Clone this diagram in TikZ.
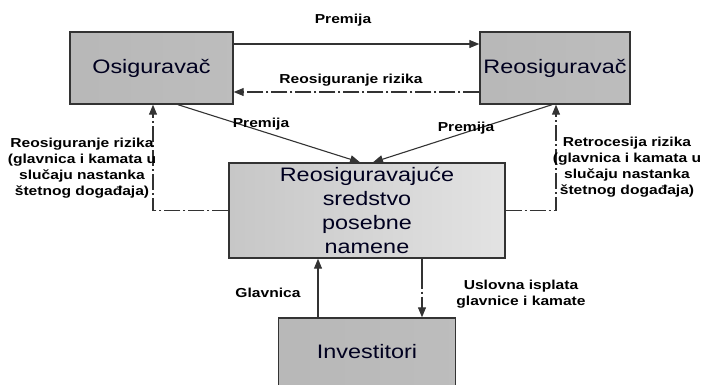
\documentclass[tikz,border=0pt]{standalone}
\usepackage{fontspec}
\setmainfont{Liberation Sans}[FakeStretch=1.2]
\usetikzlibrary{arrows.meta}
\begin{document}
\begin{tikzpicture}[x=1pt,y=-1pt,
  box/.style={draw=black!80, line width=1.4pt, inner sep=0pt, align=center,
    text=black!85!blue!80!black, font=\fontsize{19.5}{24}\selectfont,
    left color=black!28, middle color=black!7, right color=black!26},
  lab/.style={font=\fontsize{13}{16}\selectfont\bfseries, align=center, inner sep=0pt},
  cn/.style={line width=1.1pt, draw=black!80},
  arr/.style={-{Triangle[length=10pt,width=8pt]}},
  dd/.style={dash pattern=on 16pt off 3pt on 2pt off 3pt}]
\useasboundingbox (0,0) rectangle (701,384);
\clip (0,0) rectangle (701,384);

% parties
\node[box, minimum width=163pt, minimum height=72pt] (osig) at (151.5,68) {Osiguravač};
\node[box, minimum width=150pt, minimum height=72pt] (reos) at (555,68) {Reosiguravač};
\node[box, minimum width=276pt, minimum height=95pt,
  left color=black!22, middle color=black!15, right color=black!11] (mid) at (367,210.5)
  {Reosiguravajuće\\sredstvo\\posebne\\namene};
\node[box, minimum width=177pt, minimum height=68pt] (inv) at (367,352) {Investitori};

% premium and risk flows between insurer and reinsurer
\draw[cn, arr] ([yshift=24pt]osig.east) -- ([yshift=24pt]reos.west);
\node[lab] (lp1) at (343,20) {Premija};
\draw[cn, arr, dd] ([yshift=-24pt]reos.west) -- ([yshift=-24pt]osig.east);
\node[lab] (lr1) at (351,80) {Reosiguranje rizika};

% premiums into the special purpose vehicle
\draw[cn, arr] ([xshift=26.5pt]osig.south) -- ([xshift=-7pt]mid.north);
\node[lab] (lp2) at (261,124) {Premija};
\draw[cn, arr] ([xshift=-3pt]reos.south) -- ([xshift=6pt]mid.north);
\node[lab] (lp3) at (466,128) {Premija};

% risk cover back to insurer and reinsurer
\draw[cn, arr, dd] (mid.west) -| ([xshift=1.5pt]osig.south);
\node[lab] (lr2) at (82,168) {Reosiguranje rizika\\(glavnica i kamata u\\slučaju nastanka\\štetnog događaja)};
\draw[cn, arr, dd] (mid.east) -| ([xshift=1pt]reos.south);
\node[lab] (lr3) at (627,167) {Retrocesija rizika\\(glavnica i kamata u\\slučaju nastanka\\štetnog događaja)};

% investors
\draw[cn, arr] ([xshift=-49pt]inv.north) -- ([xshift=-49pt]mid.south);
\node[lab] (lg) at (268,293) {Glavnica};
\draw[cn, arr, dash pattern=on 30pt off 3pt on 2pt off 3pt] ([xshift=55pt]mid.south) -- ([xshift=55pt]inv.north);
\node[lab] (lu) at (521,294) {Uslovna isplata\\glavnice i kamate};
\end{tikzpicture}
\end{document}
